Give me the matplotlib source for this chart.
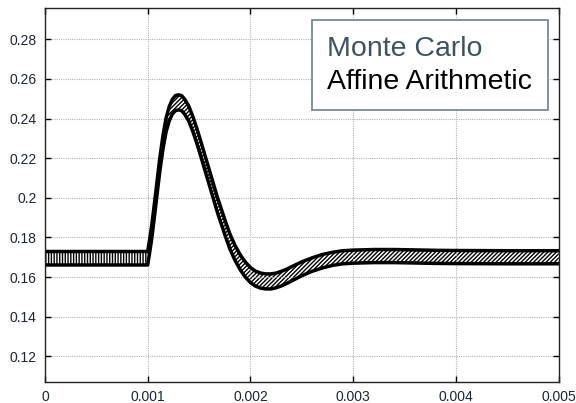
import numpy as np
import matplotlib
matplotlib.use("Agg")
import matplotlib.pyplot as plt
from matplotlib.lines import Line2D

plt.rcParams['font.family'] = ['Liberation Sans', 'DejaVu Sans']
plt.rcParams['hatch.linewidth'] = 1.0

# time (s) and band limits
t = [0.0, 0.0005, 0.001, 0.00102, 0.00104, 0.00106, 0.00108, 0.0011, 0.00112,
     0.00115, 0.00118, 0.00121, 0.00124, 0.00127, 0.0013, 0.00133, 0.00136,
     0.0014, 0.00144, 0.00148, 0.00152, 0.00156, 0.0016, 0.00164, 0.00168,
     0.00172, 0.00176, 0.0018, 0.00185, 0.0019, 0.00195, 0.002, 0.00205,
     0.0021, 0.00215, 0.0022, 0.00225, 0.0023, 0.00235, 0.0024, 0.0025,
     0.0026, 0.0027, 0.0028, 0.0029, 0.003, 0.0032, 0.0034, 0.0036, 0.0038,
     0.004, 0.0045, 0.005]
center = [0.1695, 0.1695, 0.1695, 0.176, 0.183, 0.1915, 0.2, 0.209, 0.2175,
          0.2285, 0.237, 0.2425, 0.246, 0.2478, 0.2482, 0.2478, 0.246,
          0.2425, 0.2372, 0.231, 0.2242, 0.2172, 0.2102, 0.2032, 0.1962,
          0.19, 0.1838, 0.178, 0.1722, 0.1675, 0.1638, 0.161, 0.1592,
          0.1582, 0.1578, 0.1578, 0.1583, 0.1592, 0.1603, 0.1616, 0.1642,
          0.1663, 0.168, 0.1692, 0.17, 0.1703, 0.1706, 0.1706, 0.1704, 0.1702,
          0.1701, 0.17, 0.17]
halfwidth = [0.0034, 0.0034, 0.0034, 0.0034, 0.0034, 0.0034, 0.0034, 0.0034,
             0.0034, 0.0034, 0.0035, 0.0036, 0.0037, 0.0038, 0.0038, 0.0038,
             0.0038, 0.0038, 0.0038, 0.0038, 0.0038, 0.0038, 0.0038, 0.0038,
             0.0038, 0.0038, 0.0038, 0.0038, 0.0038, 0.0038, 0.0038, 0.0038,
             0.0038, 0.0038, 0.0038, 0.0038, 0.0037, 0.0037, 0.0036, 0.0036,
             0.0035, 0.0034, 0.0034, 0.0033, 0.0033, 0.0033, 0.0033, 0.0033,
             0.0033, 0.0033, 0.0033, 0.0033, 0.0033]

xticks = [0, 0.001, 0.002, 0.003, 0.004, 0.005]
yticks = [0.12, 0.14, 0.16, 0.18, 0.2, 0.22, 0.24, 0.26, 0.28]
labels = ['Monte Carlo', 'Affine Arithmetic']

t = np.array(t)
center = np.array(center)
halfwidth = np.array(halfwidth)
lower = center - halfwidth
upper = center + halfwidth

fig = plt.figure(figsize=(5.76, 4.03), dpi=100)
ax = fig.add_axes([0.078, 0.052, 0.892, 0.928])

pre = t <= 0.001
post = t >= 0.001
mc = ax.fill_between(t[pre], lower[pre], upper[pre], facecolor='white',
                     edgecolor='black', hatch='||||||', linewidth=0)
aa = ax.fill_between(t[post], lower[post], upper[post], facecolor='white',
                     edgecolor='black', hatch='////////', linewidth=0)
ax.plot(t, lower, color='black', lw=2.5, solid_joinstyle='round')
ax.plot(t, upper, color='black', lw=2.5, solid_joinstyle='round')

ax.set_xlim(0, 0.005)
ax.set_ylim(0.107, 0.2958)
ax.set_xticks(xticks)
ax.set_yticks(yticks)
ax.set_xticklabels(['%g' % v for v in xticks])
ax.set_yticklabels(['%g' % v for v in yticks])
ax.tick_params(direction='in', top=True, right=True, length=4, width=1,
               labelsize=10, labelcolor='#1c2530', pad=6)
ax.grid(True, color='#b4b4b4', linestyle=(0, (1, 1)), linewidth=0.8)
for s in ax.spines.values():
    s.set_linewidth(1.0)
    s.set_color('#222222')

h = [Line2D([], [], linestyle='none'), Line2D([], [], linestyle='none')]
leg = ax.legend(h, labels, loc='upper right', bbox_to_anchor=(0.979, 0.968),
                handlelength=0, handletextpad=0, fontsize=20.5,
                labelcolor=['#3e5260', 'black'], frameon=True, fancybox=False,
                edgecolor='#7a8a90', framealpha=1, borderpad=0.55,
                labelspacing=0.24, borderaxespad=0)
leg.get_frame().set_linewidth(1.3)

fig.savefig('out.png', dpi=100)
